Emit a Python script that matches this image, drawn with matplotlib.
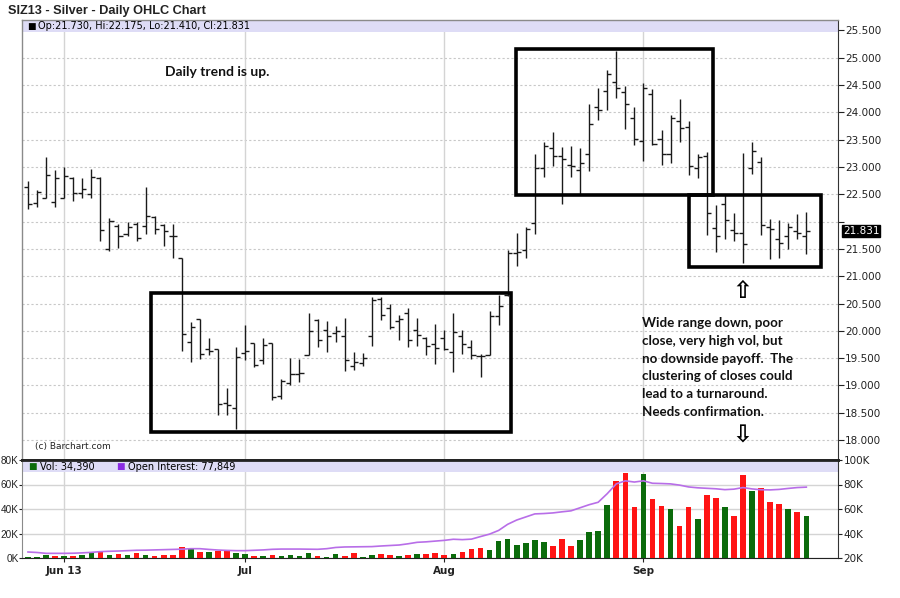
import matplotlib
matplotlib.use("Agg")
import matplotlib.pyplot as plt
from matplotlib.patches import Rectangle
import matplotlib.transforms as mtransforms
import numpy as np
import pandas as pd

# ---------------- data ----------------
dates = pd.bdate_range("2013-05-28", "2013-09-27", freq="C",
                       holidays=["2013-07-04", "2013-09-02"])

opens = [22.63, 22.34, 22.44, 22.36, 22.44, 22.80, 22.52, 22.50, 22.80, 21.49,
         21.92, 21.77, 21.95, 21.92, 22.08, 21.94, 21.73, 21.33, 19.79, 20.21,
         19.66, 19.66, 18.68, 18.58, 19.59, 19.78, 19.46, 19.78, 18.80, 19.05,
         19.21, 19.55, 20.20, 20.01, 19.96, 19.90, 19.35, 19.41, 19.90, 20.59,
         20.41, 20.18, 20.32, 20.02, 19.86, 19.75, 19.86, 19.61, 19.90, 19.71,
         19.53, 19.55, 20.28, 20.65, 21.42, 21.48, 21.97, 22.99, 23.35, 23.21,
         23.03, 22.94, 23.23, 24.10, 24.39, 24.55, 24.38, 23.90, 23.48, 24.33,
         23.52, 23.23, 23.84, 23.74, 22.99, 23.21, 21.88, 22.32, 21.84, 21.80,
         22.99, 23.09, 21.90, 21.68, 21.74, 21.82, 21.730]
highs = [22.74, 22.58, 23.18, 22.94, 23.00, 22.82, 22.79, 22.96, 22.82, 22.07,
         21.95, 22.00, 22.00, 22.63, 22.10, 21.96, 21.95, 21.33, 20.16, 20.22,
         19.86, 19.67, 18.95, 19.70, 20.10, 19.78, 19.86, 19.78, 19.12, 19.51,
         19.49, 20.32, 20.21, 20.18, 20.09, 20.24, 19.61, 19.59, 20.62, 20.62,
         20.50, 20.29, 20.41, 20.24, 19.89, 20.13, 20.01, 20.32, 20.02, 19.83,
         19.58, 20.37, 20.65, 21.48, 21.80, 21.90, 23.24, 23.45, 23.65, 23.36,
         23.39, 23.35, 24.15, 24.45, 24.77, 25.12, 24.48, 24.09, 24.53, 24.42,
         23.68, 23.96, 24.25, 23.84, 23.24, 23.27, 22.30, 22.50, 22.16, 23.25,
         23.45, 23.18, 22.04, 22.03, 21.98, 22.14, 22.175]
lows = [22.23, 22.26, 22.43, 22.26, 22.43, 22.37, 22.43, 22.43, 21.65, 21.47,
        21.52, 21.74, 21.65, 21.78, 21.78, 21.55, 21.34, 19.63, 19.43, 19.48,
        19.55, 18.46, 18.46, 18.21, 19.46, 19.34, 19.40, 18.73, 18.75, 19.00,
        19.07, 19.55, 19.70, 19.62, 19.80, 19.27, 19.29, 19.36, 19.73, 20.19,
        20.04, 19.84, 19.70, 19.73, 19.55, 19.40, 19.64, 19.24, 19.58, 19.49,
        19.15, 19.55, 20.10, 20.63, 21.18, 21.33, 21.78, 22.82, 23.01, 22.33,
        22.81, 22.50, 22.93, 23.86, 24.04, 24.26, 23.70, 23.41, 23.11, 23.41,
        23.04, 23.07, 23.45, 22.85, 22.79, 21.76, 21.44, 21.68, 21.65, 21.24,
        22.87, 21.76, 21.32, 21.33, 21.50, 21.68, 21.410]
closes = [22.32, 22.54, 22.86, 22.80, 22.84, 22.52, 22.60, 22.82, 21.84, 22.02,
          21.74, 21.90, 21.70, 22.11, 21.87, 21.83, 21.73, 19.94, 20.07, 19.57,
          19.63, 18.66, 18.64, 19.52, 19.63, 19.37, 19.74, 18.79, 19.08, 19.21,
          19.22, 20.00, 19.84, 19.90, 20.00, 19.46, 19.43, 19.50, 20.56, 20.29,
          20.07, 20.21, 19.84, 19.92, 19.73, 19.69, 19.66, 19.98, 19.75, 19.55,
          19.53, 20.27, 20.45, 21.42, 21.45, 21.86, 22.99, 23.38, 23.21, 23.14,
          23.02, 23.08, 23.79, 24.04, 24.70, 24.44, 24.15, 23.52, 24.44, 23.43,
          23.24, 23.90, 23.72, 23.01, 23.19, 22.15, 21.73, 22.03, 21.80, 21.59,
          23.30, 21.94, 21.86, 21.61, 21.90, 21.79, 21.831]
volume_k = [0.8, 0.8, 2.7, 1.9, 1.9, 1.9, 2.7, 4.9, 6.0, 2.7,
            3.5, 2.7, 4.1, 2.7, 1.9, 2.7, 2.7, 9.0, 7.3, 5.2,
            5.2, 5.4, 5.4, 4.1, 3.3, 1.9, 1.9, 2.7, 1.9, 2.7,
            1.9, 4.1, 1.9, 0.8, 3.3, 1.9, 4.1, 0.8, 2.7, 3.3,
            2.7, 1.9, 2.7, 3.5, 3.5, 4.1, 2.7, 3.5, 4.9, 7.6,
            8.1, 6.8, 14.1, 15.5, 10.8, 12.2, 14.9, 13.0, 9.5, 15.5,
            9.5, 14.9, 21.2, 21.7, 43.4, 63.2, 69.7, 41.5, 68.6, 48.0,
            42.6, 39.9, 26.3, 41.5, 32.0, 51.5, 48.8, 42.0, 34.4, 67.8,
            55.1, 57.5, 45.6, 44.2, 39.9, 37.7, 34.39]
open_interest_k = [24.9, 24.5, 23.8, 23.8, 23.8, 23.9, 24.2, 24.6, 25.2, 25.5,
                   25.7, 26.0, 26.3, 26.4, 26.6, 26.8, 27.0, 27.2, 27.6, 27.6,
                   27.0, 26.5, 26.2, 26.0, 26.0, 26.3, 26.6, 27.1, 27.3, 27.3,
                   27.3, 27.2, 27.1, 27.6, 28.6, 29.0, 29.1, 29.2, 29.3, 29.8,
                   30.2, 30.6, 31.6, 32.8, 33.2, 33.8, 34.4, 35.3, 35.0, 35.4,
                   37.5, 39.5, 42.5, 47.5, 51.0, 53.5, 56.0, 56.3, 56.8, 57.7,
                   58.5, 61.0, 63.5, 65.5, 72.5, 80.5, 83.0, 82.0, 83.0, 81.0,
                   80.8, 80.5, 79.5, 78.0, 77.3, 76.9, 76.5, 75.8, 76.2, 77.5,
                   76.4, 75.7, 75.6, 76.0, 76.8, 77.5, 77.849]
month_labels = ["Jun 13", "Jul", "Aug", "Sep"]
price_ticks = [18.0, 18.5, 19.0, 19.5, 20.0, 20.5, 21.0, 21.5, 22.0, 22.5,
               23.0, 23.5, 24.0, 24.5, 25.0, 25.5]
vol_ticks = [0, 20, 40, 60, 80]
oi_ticks = [20, 40, 60, 80, 100]
note_lines = ["Wide range down, poor", "close, very high vol, but",
              "no downside payoff.  The", "clustering of closes could",
              "lead to a turnaround.", "Needs confirmation."]

# ---------------- helpers ----------------
W, H = 900, 598
def fx(px):
    return px / W
def fy(py):
    return 1 - py / H

n = len(closes)
x = np.arange(n)
month_pos = [i for i in range(1, n) if dates[i].month != dates[i - 1].month]

GREEN = "#0b6b0b"
RED = "#ff1414"
PURPLE = "#b86ee8"
BAND = "#dedcf6"
GRID = "#d4d4d4"
NUMFONT = "DejaVu Sans"

fig = plt.figure(figsize=(W / 100, H / 100), dpi=100)
fig.patch.set_facecolor("white")

ax = fig.add_axes([fx(22), fy(460), fx(838) - fx(22), fy(20) - fy(460)])
axv = fig.add_axes([fx(22), fy(558), fx(838) - fx(22), fy(460) - fy(558)])

xlim = (-0.66, 89.5)

# ---------------- price panel ----------------
ax.set_xlim(*xlim)
ax.set_ylim(17.634, 25.692)
for p in price_ticks:
    ax.axhline(p, color="#c8c8c8", lw=0.8, ls=(0, (2, 2)), zorder=0)
for m in month_pos:
    ax.axvline(m, color=GRID, lw=1.0, zorder=0)

op = np.array(opens); hi = np.array(highs); lo = np.array(lows); cl = np.array(closes)
ax.vlines(x, lo, hi, color="#1a1a1a", lw=1.0, zorder=3)
ax.hlines(op, x - 0.45, x, color="#1a1a1a", lw=1.0, zorder=3)
ax.hlines(cl, x, x + 0.45, color="#1a1a1a", lw=1.0, zorder=3)

# header band
ax.add_patch(Rectangle((0, 1 - 12 / 440), 1, 12 / 440, transform=ax.transAxes,
                       facecolor=BAND, edgecolor="none", zorder=1))
fig.text(fx(27), fy(26), "\u25A0", fontsize=6.5, color="black", va="center",
         family="DejaVu Sans")
fig.text(fx(38), fy(26),
         f"Op:{opens[-1]:.3f}, Hi:{highs[-1]:.3f}, Lo:{lows[-1]:.3f}, Cl:{closes[-1]:.3f}",
         fontsize=7, color="black", va="center", family=NUMFONT)

ax.yaxis.tick_right()
ax.set_yticks(price_ticks)
# the label nearest the last-price marker is hidden behind it
ax.set_yticklabels(["" if abs(p - closes[-1]) < 0.25 else f"{p:.3f}" for p in price_ticks],
                   fontsize=7.5, family=NUMFONT)
ax.tick_params(axis="y", direction="out", length=4, width=0.8, pad=1, colors="#222")
ax.set_xticks([])
for s in ["left", "top"]:
    ax.spines[s].set_color("#8a8a8a")
    ax.spines[s].set_linewidth(1)
ax.spines["right"].set_color("#333")
ax.spines["bottom"].set_color("#222")
ax.spines["bottom"].set_linewidth(2)

# current price label
trans = mtransforms.blended_transform_factory(ax.transAxes, ax.transData)
ax.text(1.006, closes[-1], f"{closes[-1]:.3f}", transform=trans, fontsize=7.5,
        color="white", va="center", ha="left", family=NUMFONT,
        bbox=dict(boxstyle="square,pad=0.1", fc="black", ec="black"), zorder=5)

# annotation boxes
for (x0, y0, x1, y1) in [(13.6, 18.15, 53.4, 20.69),
                         (53.9, 22.49, 75.7, 25.16),
                         (73.0, 21.17, 87.6, 22.49)]:
    ax.add_patch(Rectangle((x0, y0), x1 - x0, y1 - y0, fill=False,
                           edgecolor="black", lw=2.6, zorder=4))

fig.text(fx(165), fy(72), "Daily trend is up.", fontsize=10, fontweight="bold",
         family="Lato", va="center", ha="left", color="#111")
fig.text(fx(642), fy(317), "\n".join(note_lines), fontsize=9.6, fontweight="bold",
         family="Lato", va="top", ha="left", color="#111", linespacing=1.58)
fig.text(fx(742), fy(291), "\u21E7", fontsize=17, fontweight="bold",
         family="DejaVu Sans", va="center", ha="center")
fig.text(fx(742), fy(436), "\u21E9", fontsize=17, fontweight="bold",
         family="DejaVu Sans", va="center", ha="center")
fig.text(fx(35), fy(447), "(c) Barchart.com", fontsize=6.5, family=NUMFONT,
         va="center", ha="left", color="#222")

# title
fig.text(fx(8), fy(11), "SIZ13 - Silver - Daily OHLC Chart", fontsize=9.2,
         fontweight="bold", family="Liberation Sans", va="center", ha="left",
         color="#222")

# ---------------- volume panel ----------------
axv.set_xlim(*xlim)
axv.set_ylim(0, 80)
for v in vol_ticks:
    axv.axhline(v, color=GRID, lw=1.0, zorder=0)
for m in month_pos:
    axv.axvline(m, color=GRID, lw=1.0, zorder=0)
vol_colors = [GREEN] + [GREEN if closes[i] >= closes[i - 1] else RED for i in range(1, n)]
axv.bar(x, volume_k, width=0.62, color=vol_colors, zorder=3)

axv.add_patch(Rectangle((0, 1 - 12 / 98), 1, 12 / 98, transform=axv.transAxes,
                        facecolor=BAND, edgecolor="none", zorder=2))
fig.text(fx(28), fy(467), "\u25A0", fontsize=6.5, color=GREEN, va="center",
         family="DejaVu Sans")
fig.text(fx(40), fy(467), f"Vol: {volume_k[-1] * 1000:,.0f}", fontsize=7,
         va="center", family=NUMFONT)
fig.text(fx(116), fy(467), "\u25A0", fontsize=6.5, color="#8a2be2", va="center",
         family="DejaVu Sans")
fig.text(fx(128), fy(467), f"Open Interest: {open_interest_k[-1] * 1000:,.0f}",
         fontsize=7, va="center", family=NUMFONT)

axv.set_yticks(vol_ticks)
axv.set_yticklabels([f"{v}K" for v in vol_ticks], fontsize=7.2, family="Liberation Sans")
axv.tick_params(axis="y", direction="out", length=2, width=0.8, pad=0.5, colors="#222")
axv.set_xticks(month_pos)
axv.set_xticklabels(month_labels, fontsize=7.5, fontweight="bold", family=NUMFONT,
                    color="#222")
axv.tick_params(axis="x", direction="out", length=3, width=0.8, pad=3, colors="#222")
axv.spines["top"].set_color("#222")
axv.spines["top"].set_linewidth(2)
axv.spines["bottom"].set_color("#222")
axv.spines["left"].set_color("#8a8a8a")
axv.spines["right"].set_color("#333")

axo = axv.twinx()
axo.set_xlim(*xlim)
axo.set_ylim(20, 100)
axo.plot(x, open_interest_k, color=PURPLE, lw=1.2, zorder=4)
axo.set_yticks(oi_ticks)
axo.set_yticklabels([f"{v}K" for v in oi_ticks], fontsize=7.5, family=NUMFONT)
axo.tick_params(axis="y", direction="out", length=3, width=0.8, pad=1, colors="#222")
for s in axo.spines.values():
    s.set_visible(False)

fig.savefig("out.png", dpi=100)
